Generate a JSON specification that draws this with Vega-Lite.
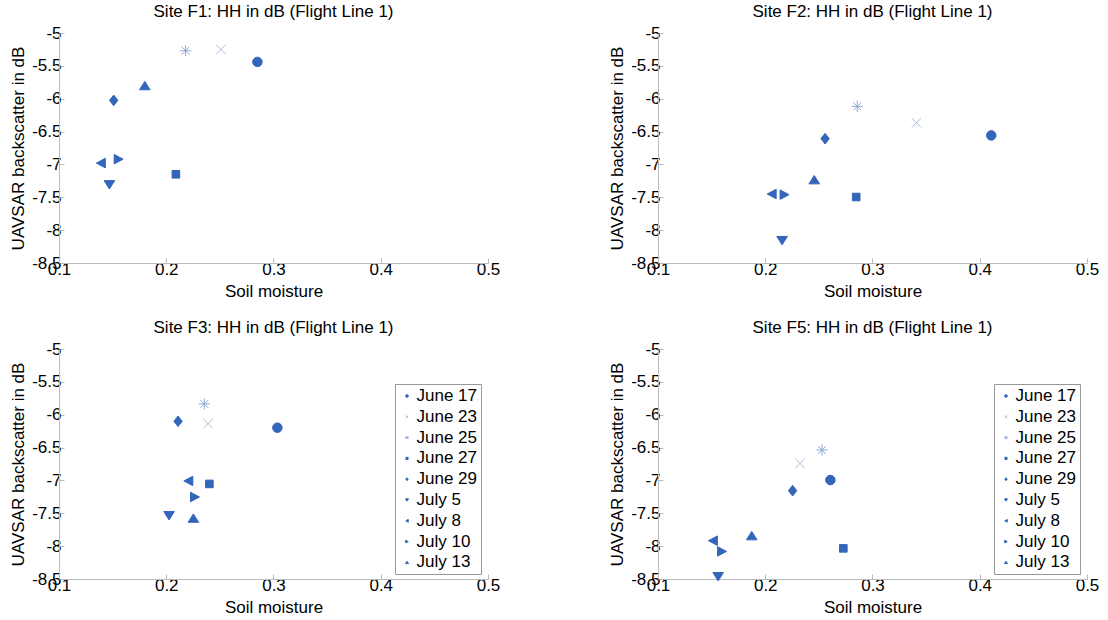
{
  "$schema": "https://vega.github.io/schema/vega-lite/v6.json",
  "padding": {"left": 9, "top": 3, "right": 0, "bottom": 0},
  "background": "white",
  "config": {
    "font": "Liberation Sans",
    "view": {"stroke": null},
    "axis": {
      "grid": false,
      "domainColor": "#BBBBBB",
      "tickColor": "#BBBBBB",
      "tickSize": -5,
      "labelFont": "Liberation Sans",
      "labelFontSize": 17,
      "labelColor": "black",
      "labelOverlap": false,
      "labelFlush": false,
      "labelExpr": "datum.value < 0 ? '-' + format(-datum.value, '~g') : format(datum.value, '~g')",
      "titleFont": "Liberation Sans",
      "titleFontSize": 17,
      "titleFontWeight": "normal",
      "titleColor": "black"
    },
    "title": {"font": "Liberation Sans", "fontSize": 17, "fontWeight": "normal", "color": "black", "offset": 3}
  },
  "datasets": {
    "pts": [
      {"site": "F1", "date": "June 17", "sm": 0.285, "hh": -5.44},
      {"site": "F1", "date": "June 23", "sm": 0.251, "hh": -5.25},
      {"site": "F1", "date": "June 25", "sm": 0.218, "hh": -5.27},
      {"site": "F1", "date": "June 27", "sm": 0.209, "hh": -7.15},
      {"site": "F1", "date": "June 29", "sm": 0.151, "hh": -6.025},
      {"site": "F1", "date": "July 5", "sm": 0.147, "hh": -7.31},
      {"site": "F1", "date": "July 8", "sm": 0.139, "hh": -6.98},
      {"site": "F1", "date": "July 10", "sm": 0.1556, "hh": -6.92},
      {"site": "F1", "date": "July 13", "sm": 0.18, "hh": -5.8},
      {"site": "F2", "date": "June 17", "sm": 0.4107, "hh": -6.558},
      {"site": "F2", "date": "June 23", "sm": 0.341, "hh": -6.365},
      {"site": "F2", "date": "June 25", "sm": 0.2858, "hh": -6.116},
      {"site": "F2", "date": "June 27", "sm": 0.2848, "hh": -7.496},
      {"site": "F2", "date": "June 29", "sm": 0.2558, "hh": -6.608},
      {"site": "F2", "date": "July 5", "sm": 0.2157, "hh": -8.16},
      {"site": "F2", "date": "July 8", "sm": 0.206, "hh": -7.45},
      {"site": "F2", "date": "July 10", "sm": 0.218, "hh": -7.46},
      {"site": "F2", "date": "July 13", "sm": 0.2457, "hh": -7.232},
      {"site": "F3", "date": "June 17", "sm": 0.3036, "hh": -6.197},
      {"site": "F3", "date": "June 23", "sm": 0.239, "hh": -6.136},
      {"site": "F3", "date": "June 25", "sm": 0.2355, "hh": -5.835},
      {"site": "F3", "date": "June 27", "sm": 0.2402, "hh": -7.053},
      {"site": "F3", "date": "June 29", "sm": 0.211, "hh": -6.1},
      {"site": "F3", "date": "July 5", "sm": 0.2026, "hh": -7.537},
      {"site": "F3", "date": "July 8", "sm": 0.2206, "hh": -7.007},
      {"site": "F3", "date": "July 10", "sm": 0.2268, "hh": -7.252},
      {"site": "F3", "date": "July 13", "sm": 0.2253, "hh": -7.573},
      {"site": "F5", "date": "June 17", "sm": 0.2607, "hh": -6.994},
      {"site": "F5", "date": "June 23", "sm": 0.2324, "hh": -6.74},
      {"site": "F5", "date": "June 25", "sm": 0.2529, "hh": -6.537},
      {"site": "F5", "date": "June 27", "sm": 0.2728, "hh": -8.034},
      {"site": "F5", "date": "June 29", "sm": 0.2255, "hh": -7.156},
      {"site": "F5", "date": "July 5", "sm": 0.1561, "hh": -8.465},
      {"site": "F5", "date": "July 8", "sm": 0.1512, "hh": -7.917},
      {"site": "F5", "date": "July 10", "sm": 0.1597, "hh": -8.08},
      {"site": "F5", "date": "July 13", "sm": 0.1874, "hh": -7.84}
    ]
  },
  "columns": 2,
  "spacing": {"row": 20, "column": 108},
  "resolve": {
    "scale": {"shape": "independent", "fill": "independent", "stroke": "independent"},
    "legend": {"shape": "independent", "fill": "independent", "stroke": "independent"}
  },
  "concat": [
    {
      "width": 429, "height": 230,
      "title": "Site F1: HH in dB (Flight Line 1)",
      "data": {"name": "pts"},
      "transform": [{"filter": "datum.site == 'F1'"}],
      "mark": {"type": "point", "opacity": 1, "size": 125, "strokeWidth": 1},
      "encoding": {
        "x": {"field": "sm", "type": "quantitative", "scale": {"domain": [0.1, 0.5], "nice": false, "zero": false}, "axis": {"values": [0.1, 0.2, 0.3, 0.4, 0.5], "title": "Soil moisture", "labelPadding": 3, "titlePadding": 6}},
        "y": {"field": "hh", "type": "quantitative", "scale": {"domain": [-8.5, -5], "nice": false, "zero": false}, "axis": {"values": [-8.5, -8, -7.5, -7, -6.5, -6, -5.5, -5], "title": "UAVSAR backscatter in dB", "labelPadding": 3, "titlePadding": 4}},
        "shape": {"field": "date", "type": "nominal", "legend": null, "scale": {"domain": ["June 17", "June 23", "June 25", "June 27", "June 29", "July 5", "July 8", "July 10", "July 13"], "range": ["M-0.85,0A0.85,0.85 0 1,0 0.85,0A0.85,0.85 0 1,0 -0.85,0Z", "M-0.85,-0.85L0.85,0.85M-0.85,0.85L0.85,-0.85", "M-1,0L1,0M0,-1L0,1M-0.7,-0.7L0.7,0.7M-0.7,0.7L0.7,-0.7", "M-0.68,-0.68L0.68,-0.68L0.68,0.68L-0.68,0.68Z", "M0,-0.95L0.75,0L0,0.95L-0.75,0Z", "M0,0.75L0.95,-0.75L-0.95,-0.75Z", "M-0.8,0L0.8,-0.85L0.8,0.85Z", "M0.8,0L-0.8,-0.85L-0.8,0.85Z", "M0,-0.75L0.95,0.75L-0.95,0.75Z"]}},
        "fill": {"field": "date", "type": "nominal", "legend": null, "scale": {"domain": ["June 17", "June 23", "June 25", "June 27", "June 29", "July 5", "July 8", "July 10", "July 13"], "range": ["#3366BB", "transparent", "transparent", "#3366BB", "#3366BB", "#3366BB", "#3366BB", "#3366BB", "#3366BB"]}},
        "stroke": {"field": "date", "type": "nominal", "legend": null, "scale": {"domain": ["June 17", "June 23", "June 25", "June 27", "June 29", "July 5", "July 8", "July 10", "July 13"], "range": ["#3366BB", "#A8BEE0", "#8FA9D8", "#3366BB", "#3366BB", "#3366BB", "#3366BB", "#3366BB", "#3366BB"]}}
      }
    },
    {
      "width": 429, "height": 230,
      "title": "Site F2: HH in dB (Flight Line 1)",
      "data": {"name": "pts"},
      "transform": [{"filter": "datum.site == 'F2'"}],
      "mark": {"type": "point", "opacity": 1, "size": 125, "strokeWidth": 1},
      "encoding": {
        "x": {"field": "sm", "type": "quantitative", "scale": {"domain": [0.1, 0.5], "nice": false, "zero": false}, "axis": {"values": [0.1, 0.2, 0.3, 0.4, 0.5], "title": "Soil moisture", "labelPadding": 3, "titlePadding": 6}},
        "y": {"field": "hh", "type": "quantitative", "scale": {"domain": [-8.5, -5], "nice": false, "zero": false}, "axis": {"values": [-8.5, -8, -7.5, -7, -6.5, -6, -5.5, -5], "title": "UAVSAR backscatter in dB", "labelPadding": 3, "titlePadding": 4}},
        "shape": {"field": "date", "type": "nominal", "legend": null, "scale": {"domain": ["June 17", "June 23", "June 25", "June 27", "June 29", "July 5", "July 8", "July 10", "July 13"], "range": ["M-0.85,0A0.85,0.85 0 1,0 0.85,0A0.85,0.85 0 1,0 -0.85,0Z", "M-0.85,-0.85L0.85,0.85M-0.85,0.85L0.85,-0.85", "M-1,0L1,0M0,-1L0,1M-0.7,-0.7L0.7,0.7M-0.7,0.7L0.7,-0.7", "M-0.68,-0.68L0.68,-0.68L0.68,0.68L-0.68,0.68Z", "M0,-0.95L0.75,0L0,0.95L-0.75,0Z", "M0,0.75L0.95,-0.75L-0.95,-0.75Z", "M-0.8,0L0.8,-0.85L0.8,0.85Z", "M0.8,0L-0.8,-0.85L-0.8,0.85Z", "M0,-0.75L0.95,0.75L-0.95,0.75Z"]}},
        "fill": {"field": "date", "type": "nominal", "legend": null, "scale": {"domain": ["June 17", "June 23", "June 25", "June 27", "June 29", "July 5", "July 8", "July 10", "July 13"], "range": ["#3366BB", "transparent", "transparent", "#3366BB", "#3366BB", "#3366BB", "#3366BB", "#3366BB", "#3366BB"]}},
        "stroke": {"field": "date", "type": "nominal", "legend": null, "scale": {"domain": ["June 17", "June 23", "June 25", "June 27", "June 29", "July 5", "July 8", "July 10", "July 13"], "range": ["#3366BB", "#A8BEE0", "#8FA9D8", "#3366BB", "#3366BB", "#3366BB", "#3366BB", "#3366BB", "#3366BB"]}}
      }
    },
    {
      "width": 429, "height": 230,
      "title": "Site F3: HH in dB (Flight Line 1)",
      "data": {"name": "pts"},
      "transform": [{"filter": "datum.site == 'F3'"}],
      "mark": {"type": "point", "opacity": 1, "size": 125, "strokeWidth": 1},
      "encoding": {
        "x": {"field": "sm", "type": "quantitative", "scale": {"domain": [0.1, 0.5], "nice": false, "zero": false}, "axis": {"values": [0.1, 0.2, 0.3, 0.4, 0.5], "title": "Soil moisture", "labelPadding": 3, "titlePadding": 6}},
        "y": {"field": "hh", "type": "quantitative", "scale": {"domain": [-8.5, -5], "nice": false, "zero": false}, "axis": {"values": [-8.5, -8, -7.5, -7, -6.5, -6, -5.5, -5], "title": "UAVSAR backscatter in dB", "labelPadding": 3, "titlePadding": 4}},
        "shape": {"field": "date", "type": "nominal", "legend": {"orient": "none", "legendX": 336, "legendY": 35, "title": null, "strokeColor": "#999999", "fillColor": "white", "padding": 3.5, "symbolSize": 10, "symbolStrokeWidth": 1, "labelFont": "Liberation Sans", "labelFontSize": 17, "labelColor": "black", "rowPadding": 2.8, "labelOffset": 1}, "scale": {"domain": ["June 17", "June 23", "June 25", "June 27", "June 29", "July 5", "July 8", "July 10", "July 13"], "range": ["M-0.85,0A0.85,0.85 0 1,0 0.85,0A0.85,0.85 0 1,0 -0.85,0Z", "M-0.85,-0.85L0.85,0.85M-0.85,0.85L0.85,-0.85", "M-1,0L1,0M0,-1L0,1M-0.7,-0.7L0.7,0.7M-0.7,0.7L0.7,-0.7", "M-0.68,-0.68L0.68,-0.68L0.68,0.68L-0.68,0.68Z", "M0,-0.95L0.75,0L0,0.95L-0.75,0Z", "M0,0.75L0.95,-0.75L-0.95,-0.75Z", "M-0.8,0L0.8,-0.85L0.8,0.85Z", "M0.8,0L-0.8,-0.85L-0.8,0.85Z", "M0,-0.75L0.95,0.75L-0.95,0.75Z"]}},
        "fill": {"field": "date", "type": "nominal", "scale": {"domain": ["June 17", "June 23", "June 25", "June 27", "June 29", "July 5", "July 8", "July 10", "July 13"], "range": ["#3366BB", "transparent", "transparent", "#3366BB", "#3366BB", "#3366BB", "#3366BB", "#3366BB", "#3366BB"]}},
        "stroke": {"field": "date", "type": "nominal", "scale": {"domain": ["June 17", "June 23", "June 25", "June 27", "June 29", "July 5", "July 8", "July 10", "July 13"], "range": ["#3366BB", "#A8BEE0", "#8FA9D8", "#3366BB", "#3366BB", "#3366BB", "#3366BB", "#3366BB", "#3366BB"]}}
      }
    },
    {
      "width": 429, "height": 230,
      "title": "Site F5: HH in dB (Flight Line 1)",
      "data": {"name": "pts"},
      "transform": [{"filter": "datum.site == 'F5'"}],
      "mark": {"type": "point", "opacity": 1, "size": 125, "strokeWidth": 1},
      "encoding": {
        "x": {"field": "sm", "type": "quantitative", "scale": {"domain": [0.1, 0.5], "nice": false, "zero": false}, "axis": {"values": [0.1, 0.2, 0.3, 0.4, 0.5], "title": "Soil moisture", "labelPadding": 3, "titlePadding": 6}},
        "y": {"field": "hh", "type": "quantitative", "scale": {"domain": [-8.5, -5], "nice": false, "zero": false}, "axis": {"values": [-8.5, -8, -7.5, -7, -6.5, -6, -5.5, -5], "title": "UAVSAR backscatter in dB", "labelPadding": 3, "titlePadding": 4}},
        "shape": {"field": "date", "type": "nominal", "legend": {"orient": "none", "legendX": 336, "legendY": 35, "title": null, "strokeColor": "#999999", "fillColor": "white", "padding": 3.5, "symbolSize": 10, "symbolStrokeWidth": 1, "labelFont": "Liberation Sans", "labelFontSize": 17, "labelColor": "black", "rowPadding": 2.8, "labelOffset": 1}, "scale": {"domain": ["June 17", "June 23", "June 25", "June 27", "June 29", "July 5", "July 8", "July 10", "July 13"], "range": ["M-0.85,0A0.85,0.85 0 1,0 0.85,0A0.85,0.85 0 1,0 -0.85,0Z", "M-0.85,-0.85L0.85,0.85M-0.85,0.85L0.85,-0.85", "M-1,0L1,0M0,-1L0,1M-0.7,-0.7L0.7,0.7M-0.7,0.7L0.7,-0.7", "M-0.68,-0.68L0.68,-0.68L0.68,0.68L-0.68,0.68Z", "M0,-0.95L0.75,0L0,0.95L-0.75,0Z", "M0,0.75L0.95,-0.75L-0.95,-0.75Z", "M-0.8,0L0.8,-0.85L0.8,0.85Z", "M0.8,0L-0.8,-0.85L-0.8,0.85Z", "M0,-0.75L0.95,0.75L-0.95,0.75Z"]}},
        "fill": {"field": "date", "type": "nominal", "scale": {"domain": ["June 17", "June 23", "June 25", "June 27", "June 29", "July 5", "July 8", "July 10", "July 13"], "range": ["#3366BB", "transparent", "transparent", "#3366BB", "#3366BB", "#3366BB", "#3366BB", "#3366BB", "#3366BB"]}},
        "stroke": {"field": "date", "type": "nominal", "scale": {"domain": ["June 17", "June 23", "June 25", "June 27", "June 29", "July 5", "July 8", "July 10", "July 13"], "range": ["#3366BB", "#A8BEE0", "#8FA9D8", "#3366BB", "#3366BB", "#3366BB", "#3366BB", "#3366BB", "#3366BB"]}}
      }
    }
  ]
}
